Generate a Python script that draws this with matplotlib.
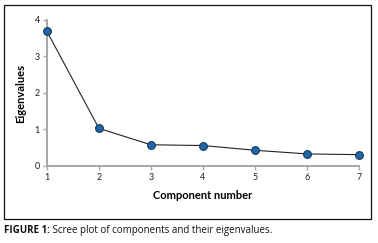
import matplotlib.pyplot as plt
from matplotlib.patches import Rectangle

plt.rcParams['font.family'] = ['Lato', 'DejaVu Sans']

# scree plot values
components = [1, 2, 3, 4, 5, 6, 7]
eigenvalues = [3.69, 1.03, 0.58, 0.56, 0.43, 0.33, 0.31]
yticks = [0, 1, 2, 3, 4]

fig = plt.figure(figsize=(3.78, 2.43), dpi=100)
ax = fig.add_axes([0.124, 0.317, 0.826, 0.601])

ax.plot(components, eigenvalues, color='#222222', linewidth=0.8,
        marker='o', markersize=5.6, markerfacecolor='#2166a8',
        markeredgecolor='#173a5e', markeredgewidth=0.8, clip_on=False, zorder=3)

ax.set_xlim(1, 7)
ax.set_ylim(0, 4)
ax.set_xticks(components)
ax.set_yticks(yticks)

for s in ['top', 'right']:
    ax.spines[s].set_visible(False)
for s in ['left', 'bottom']:
    ax.spines[s].set_color('#a6a6a6')
    ax.spines[s].set_linewidth(1.4)
ax.tick_params(axis='both', colors='#a6a6a6', length=3, width=1.0,
               labelsize=6.5, labelcolor='#222222', pad=2)

ax.set_xlabel('Component number', fontsize=8, fontweight='bold', labelpad=6)
ax.set_ylabel('Eigenvalues', fontsize=8, fontweight='bold', labelpad=6)

# frame around the chart
fig.patches.append(Rectangle((4 / 378, 1 - 219 / 243), 367 / 378, 214 / 243,
                             transform=fig.transFigure, fill=False,
                             edgecolor='#111111', linewidth=0.9))

# caption: bold label followed by regular text
cap = fig.text(4 / 378, 1 - 230 / 243, 'FIGURE 1:', fontsize=7,
               family='Open Sans', fontweight='bold', va='center', color='#111111')
ax.annotate(' Scree plot of components and their eigenvalues.', xy=(1, 0.5),
            xycoords=cap, va='center', ha='left', fontsize=7,
            family='Open Sans', color='#111111', annotation_clip=False)

fig.savefig('out.png', dpi=100)
